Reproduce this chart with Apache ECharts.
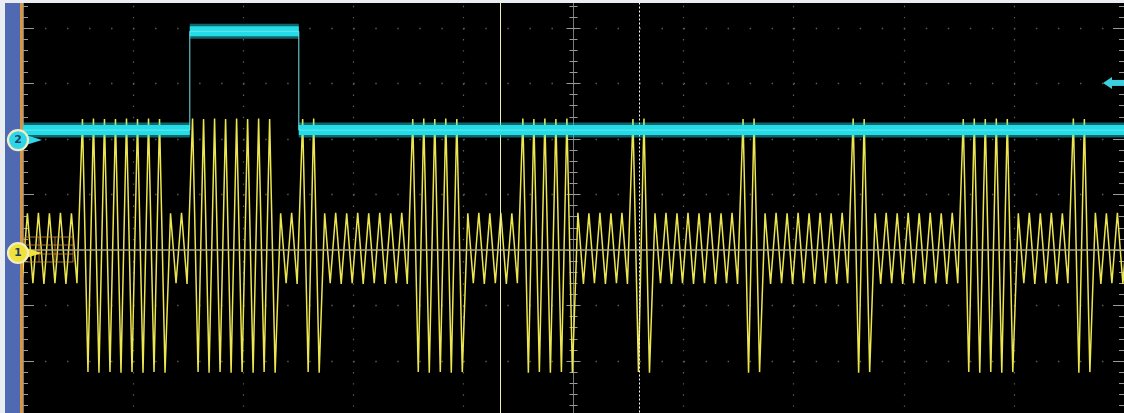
<!DOCTYPE html>
<html><head><meta charset="utf-8">
<script src="https://cdn.jsdelivr.net/npm/echarts@6/dist/echarts.min.js"></script>
<style>html,body{margin:0;padding:0;background:#e9edf1;overflow:hidden}#c{width:1124px;height:413px}</style>
</head><body><div id="c"></div>
<script>
// ---- axes (10 horizontal divisions of 10 units, vertical divisions of 1 unit) ----
const timeRange = [0, 100];
const timeDiv = 10;
const voltRange = [-3, 5];
const voltDiv = 1;

// ---- Channel 1 (yellow): extremes of each half cycle ----
// first sample at t = -0.1, one sample every half cycle (0.5 units)
const ch1T0 = -0.1, ch1Dt = 0.5;
const ch1Peaks = [
  -0.60,
  // 0-9
   0.66,-0.60, 0.67,-0.61, 0.66,-0.60, 0.67,-0.61, 0.66,-0.60,  2.36,-2.20, 2.37,-2.21, 2.36,-2.20, 2.36,-2.21, 2.37,-2.20,
  // 10-19
   2.36,-2.21, 2.37,-2.20, 2.36,-2.21, 0.66,-0.60, 0.67,-0.61,  2.37,-2.20, 2.36,-2.21, 2.37,-2.20, 2.36,-2.21, 2.37,-2.20,
  // 20-29
   2.36,-2.21, 2.37,-2.20, 2.36,-2.21, 0.66,-0.60, 0.67,-0.61,  2.36,-2.20, 2.37,-2.21, 0.66,-0.60, 0.67,-0.61, 0.66,-0.60,
  // 30-39
   0.67,-0.61, 0.66,-0.60, 0.67,-0.61, 0.66,-0.60, 0.67,-0.61,  2.36,-2.20, 2.37,-2.21, 2.36,-2.20, 2.37,-2.21, 2.36,-2.20,
  // 40-49
   0.66,-0.60, 0.67,-0.61, 0.66,-0.60, 0.67,-0.61, 0.66,-0.60,  2.37,-2.21, 2.36,-2.20, 2.37,-2.21, 2.36,-2.20, 2.37,-2.21,
  // 50-59
   0.67,-0.61, 0.66,-0.60, 0.67,-0.61, 0.66,-0.60, 0.67,-0.61,  2.36,-2.20, 2.37,-2.21, 0.66,-0.60, 0.67,-0.61, 0.66,-0.60,
  // 60-69
   0.67,-0.61, 0.66,-0.60, 0.67,-0.61, 0.66,-0.60, 0.67,-0.61,  2.36,-2.21, 2.37,-2.20, 0.66,-0.61, 0.67,-0.60, 0.66,-0.61,
  // 70-79
   0.67,-0.60, 0.66,-0.61, 0.67,-0.60, 0.66,-0.61, 0.67,-0.60,  2.37,-2.21, 2.36,-2.20, 0.66,-0.61, 0.67,-0.60, 0.66,-0.61,
  // 80-89
   0.67,-0.60, 0.66,-0.61, 0.67,-0.60, 0.66,-0.61, 0.67,-0.60,  2.36,-2.20, 2.37,-2.21, 2.36,-2.20, 2.37,-2.21, 2.36,-2.20,
  // 90-99
   0.66,-0.60, 0.67,-0.61, 0.66,-0.60, 0.67,-0.61, 0.66,-0.60,  2.37,-2.21, 2.36,-2.20, 0.67,-0.61, 0.66,-0.60, 0.67,-0.61,
   0.66
];
const ch1Ground = 0;

// ---- Channel 2 (cyan): level changes ----
const ch2Times  = [0,    15.15, 15.15, 25.05, 25.05, 100];
const ch2Levels = [2.16, 2.16,  3.94,  3.94,  2.16,  2.16];
const ch2Ground = 1.98;

// ---- cursors and trigger ----
const cursorTimes = [43.32, 55.95];
const triggerLevel = 3.01;

const ch1Data = ch1Peaks.map((v, i) => [ch1T0 + i * ch1Dt, v]);
const ch2Data = ch2Times.map((t, i) => [t, ch2Levels[i]]);
const ch2Segments = [];
for (let i = 0; i < ch2Data.length - 1; i++) {
  if (ch2Levels[i] === ch2Levels[i + 1] && ch2Times[i] !== ch2Times[i + 1]) ch2Segments.push([ch2Data[i], ch2Data[i + 1]]);
}

const chart = echarts.init(document.getElementById('c'), null, {renderer: 'canvas'});
const GRID = {left: 23, top: -27.5, width: 1101, height: 444, show: true, backgroundColor: '#000', borderWidth: 0,
  outerBoundsMode: 'none', containLabel: false};
const tickCol = '#9a9a9a';
function vAxis(extra) {
  return Object.assign({
    type: 'value', min: voltRange[0], max: voltRange[1], interval: voltDiv,
    axisLabel: {show: false},
    axisLine: {show: true, lineStyle: {color: '#7a7a7a', width: 1}},
    axisTick: {show: true, inside: true, length: 11, lineStyle: {color: tickCol}},
    minorTick: {show: true, splitNumber: 5, length: 5, lineStyle: {color: tickCol}},
    splitLine: {show: false}
  }, extra);
}
const series = [];
series.push({
  type: 'line', name: 'CH1', data: ch1Data, showSymbol: false, symbol: 'none', z: 3,
  lineStyle: {color: '#ece650', width: 1.5}, animation: false, clip: true
});
series.push({
  type: 'line', name: 'CH1 ref', data: [[timeRange[0], ch1Ground], [timeRange[1], ch1Ground]], symbol: 'none', z: 4,
  lineStyle: {color: '#a9a58a', width: 1.4}, animation: false
});
ch2Segments.forEach(seg => {
  series.push({type: 'line', data: seg, symbol: 'none', z: 5, animation: false,
    lineStyle: {color: 'rgba(40,225,235,0.45)', width: 15}});
  series.push({type: 'line', data: seg, symbol: 'none', z: 5, animation: false,
    lineStyle: {color: '#22dde8', width: 10}});
});
series.push({
  type: 'line', name: 'CH2', data: ch2Data, symbol: 'none', z: 6, animation: false,
  lineStyle: {color: '#6fe4ec', width: 1}
});
series.push({
  type: 'line', data: [], symbol: 'none', z: 7, animation: false,
  markLine: {
    silent: true, symbol: 'none', animation: false, label: {show: false},
    data: [
      {xAxis: cursorTimes[0], lineStyle: {color: '#f2ecb8', width: 1, type: 'solid'}},
      {xAxis: cursorTimes[1], lineStyle: {color: '#ffffff', width: 1, type: [2, 2]}}
    ]
  }
});

chart.setOption({
  backgroundColor: '#e9edf1',
  animation: false,
  grid: GRID,
  xAxis: [{
    type: 'value', min: timeRange[0], max: timeRange[1], interval: timeDiv,
    axisLabel: {show: false}, axisLine: {show: false}, axisTick: {show: false},
    splitLine: {show: true, lineStyle: {color: '#5e5e5e', width: 1.2, type: [1.4, 9.7]}}
  }],
  yAxis: [
    vAxis({position: 'left', splitLine: {show: true, lineStyle: {color: '#5e5e5e', width: 1.4, type: [1.4, 20.62]}}}),
    vAxis({position: 'right'}),
    vAxis({position: 'left', offset: -550.5, axisTick: {show: true, inside: true, length: 7, lineStyle: {color: tickCol}}, minorTick: {show: true, splitNumber: 5, length: 4, lineStyle: {color: tickCol}}}),
    vAxis({position: 'left', offset: -550.5, axisTick: {show: true, inside: false, length: 7, lineStyle: {color: tickCol}}, minorTick: {show: true, splitNumber: 5, length: 4, lineStyle: {color: tickCol}}})
  ],
  series: series
});

const y2 = chart.convertToPixel({gridIndex: 0}, [0, ch2Ground])[1];
const y1 = chart.convertToPixel({gridIndex: 0}, [0, ch1Ground])[1] + 3;
const yt = chart.convertToPixel({gridIndex: 0}, [0, triggerLevel])[1];
function marker(label, y, fill) {
  return {
    type: 'group', x: 18, y: y, z: 100,
    children: [
      {type: 'polygon', z: 100, shape: {points: [[8, -5], [24, 0], [8, 5]]}, style: {fill: fill}},
      {type: 'circle', z: 101, shape: {cx: 0, cy: 0, r: 10}, style: {fill: fill, stroke: '#f4ecc4', lineWidth: 2.2}},
      {type: 'text', z: 102, style: {text: label, x: 0, y: 0.5, align: 'center', verticalAlign: 'middle', fill: '#203a66', font: 'bold 11px "DejaVu Sans", sans-serif'}}
    ]
  };
}
const boxCol = 'rgba(205,140,60,0.8)';
chart.setOption({
  graphic: [
    {type: 'rect', z: 90, shape: {x: 0, y: 0, width: 1124, height: 3}, style: {fill: '#e9edf1'}},
    {type: 'rect', z: 90, shape: {x: 0, y: 0, width: 5, height: 413}, style: {fill: '#e9edf1'}},
    {type: 'rect', z: 91, shape: {x: 5, y: 3, width: 15, height: 410}, style: {fill: '#4f6ab2'}},
    {type: 'rect', z: 91, shape: {x: 20, y: 3, width: 3, height: 410}, style: {fill: '#d9963f'}},
    {type: 'group', x: 25, y: y1 - 16, z: 95, children: [
      {type: 'rect', z: 95, shape: {x: 0, y: 0, width: 48, height: 25}, style: {fill: 'none', stroke: boxCol, lineWidth: 1}},
      {type: 'line', z: 95, shape: {x1: 0, y1: 8, x2: 48, y2: 8}, style: {stroke: boxCol, lineWidth: 1}},
      {type: 'line', z: 95, shape: {x1: 0, y1: 17, x2: 48, y2: 17}, style: {stroke: boxCol, lineWidth: 1}},
      {type: 'line', z: 95, shape: {x1: 14, y1: 0, x2: 14, y2: 25}, style: {stroke: boxCol, lineWidth: 1}},
      {type: 'line', z: 95, shape: {x1: 30, y1: 0, x2: 30, y2: 25}, style: {stroke: boxCol, lineWidth: 1}}
    ]},
    marker('2', y2, '#2fd6e6'),
    marker('1', y1, '#f0e23c'),
    {type: 'group', x: 1103, y: yt, z: 100, children: [
      {type: 'polygon', z: 100, shape: {points: [[0, 0], [9, -6], [9, 6]]}, style: {fill: '#3ccfe0'}},
      {type: 'rect', z: 100, shape: {x: 8, y: -3, width: 14, height: 6}, style: {fill: '#3ccfe0'}}
    ]}
  ]
});
</script>
</body></html>
